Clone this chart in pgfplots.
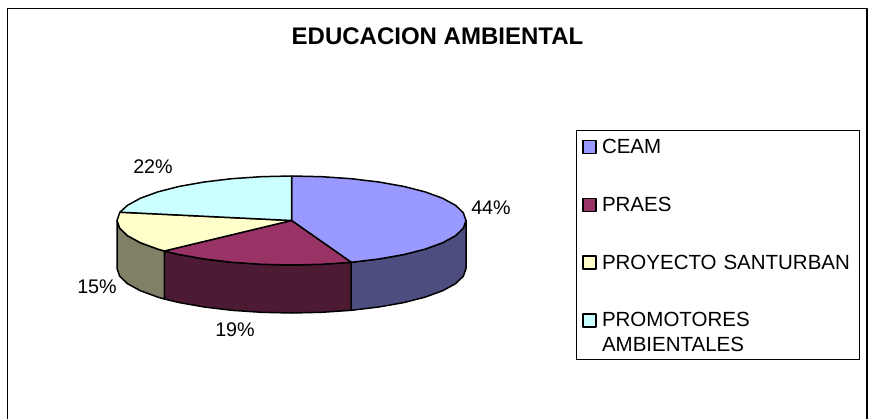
\documentclass[border=0pt]{standalone}
\usepackage{pgfplots}
\pgfplotsset{compat=1.18}
\usepackage{fontspec}
\setmainfont{Liberation Sans}
\definecolor{ceam}{HTML}{9999FF}
\definecolor{praes}{HTML}{993366}
\definecolor{santurban}{HTML}{FFFFCC}
\definecolor{promo}{HTML}{CCFFFF}
\definecolor{ceamd}{HTML}{4D4D80}
\definecolor{praesd}{HTML}{4D1A33}
\definecolor{santurband}{HTML}{808066}
\begin{document}
\begin{tikzpicture}[every node/.style={font=\fontsize{19.7}{25}\selectfont}]
\useasboundingbox (0pt,0pt) rectangle (869pt,419pt);
\begin{axis}[
  at={(0pt,0pt)},anchor=south west,
  width=869pt,height=419pt,scale only axis,
  xmin=0,xmax=869,ymin=0,ymax=419,y dir=reverse,
  hide axis,clip=false,
  legend style={at={(axis cs:576,135)},anchor=north west,draw=none,fill=none,
    inner xsep=6pt,inner ysep=3pt,row sep=40pt,
    nodes={align=left,inner sep=1pt,font=\fontsize{20.5}{24.5}\selectfont},
    text width=250pt},
  legend cell align=left,
  legend image code/.code={\path[#1,line width=1.6pt] (0pt,-6.5pt) rectangle (13pt,6.5pt);\path[draw=none,fill=none] (0pt,0pt) -- (18pt,0pt);},
  every axis plot/.append style={draw=black,line width=1.5pt,line join=round},
]
% frame (open at the foot, as in the reference)
\addplot[forget plot,draw=black,line width=1.5pt] coordinates {(7.5,419)(7.5,8.5)(867,8.5)(867,419)};
% legend box
\addplot[forget plot,draw=black,line width=0.9pt] coordinates {(576.5,130)(859,130)(859,359)(576.5,359)} -- cycle;
% walls
\addplot[forget plot,fill=ceamd] coordinates {(466,220.5)(463.3,228.2)(455.5,235.7)(442.6,242.75)(425.2,249.1)(403.7,254.6)(378.75,259)(351.2,262.3)(351.2,310.3)(378.75,307)(403.7,302.6)(425.2,297.1)(442.6,290.75)(455.5,283.7)(463.3,276.2)(466,268.5)} -- cycle;
\addplot[forget plot,fill=praesd] coordinates {(351.2,262.3)(321.8,264.3)(291.5,265)(261.2,264.3)(231.8,262.3)(204.25,259)(179.3,254.6)(164.3,251)(164.3,299)(179.3,302.6)(204.25,307)(231.8,310.3)(261.2,312.3)(291.5,313)(321.8,312.3)(351.2,310.3)} -- cycle;
\addplot[forget plot,fill=santurband] coordinates {(164.3,251)(157.8,249.1)(140.4,242.75)(127.5,235.7)(119.7,228.2)(117,220.5)(117,268.5)(119.7,276.2)(127.5,283.7)(140.4,290.75)(157.8,297.1)(164.3,299)} -- cycle;
% top faces: CEAM 44, PRAES 19, PROYECTO SANTURBAN 15, PROMOTORES AMBIENTALES 22
\addplot[fill=ceam] coordinates {(291.5,220.5)(291.5,176)(321.8,176.7)(351.2,178.7)(378.75,182)(403.7,186.4)(425.2,191.9)(442.6,198.25)(455.5,205.3)(463.3,212.8)(466,220.5)(463.3,228.2)(455.5,235.7)(442.6,242.75)(425.2,249.1)(403.7,254.6)(378.75,259)(351.2,262.3)} -- cycle;
\addplot[fill=praes] coordinates {(291.5,220.5)(351.2,262.3)(321.8,264.3)(291.5,265)(261.2,264.3)(231.8,262.3)(204.25,259)(179.3,254.6)(164.3,251)} -- cycle;
\addplot[fill=santurban] coordinates {(291.5,220.5)(164.3,251)(157.8,249.1)(140.4,242.75)(127.5,235.7)(119.7,228.2)(117,220.5)(119.7,212.8)(120,212.2)} -- cycle;
\addplot[fill=promo] coordinates {(291.5,220.5)(120,212.2)(127.5,205.3)(140.4,198.25)(157.8,191.9)(179.3,186.4)(204.25,182)(231.8,178.7)(261.2,176.7)(291.5,176)} -- cycle;
\legend{CEAM,PRAES,PROYECTO SANTURBAN,{PROMOTORES\\AMBIENTALES}}
\node at (axis cs:491,208) {44\%};
\node at (axis cs:153,167) {22\%};
\node at (axis cs:97,287) {15\%};
\node at (axis cs:235,330) {19\%};
\node[font=\bfseries\fontsize{24}{28}\selectfont] at (axis cs:437.5,36.7) {EDUCACION AMBIENTAL};
\end{axis}
\end{tikzpicture}
\end{document}
